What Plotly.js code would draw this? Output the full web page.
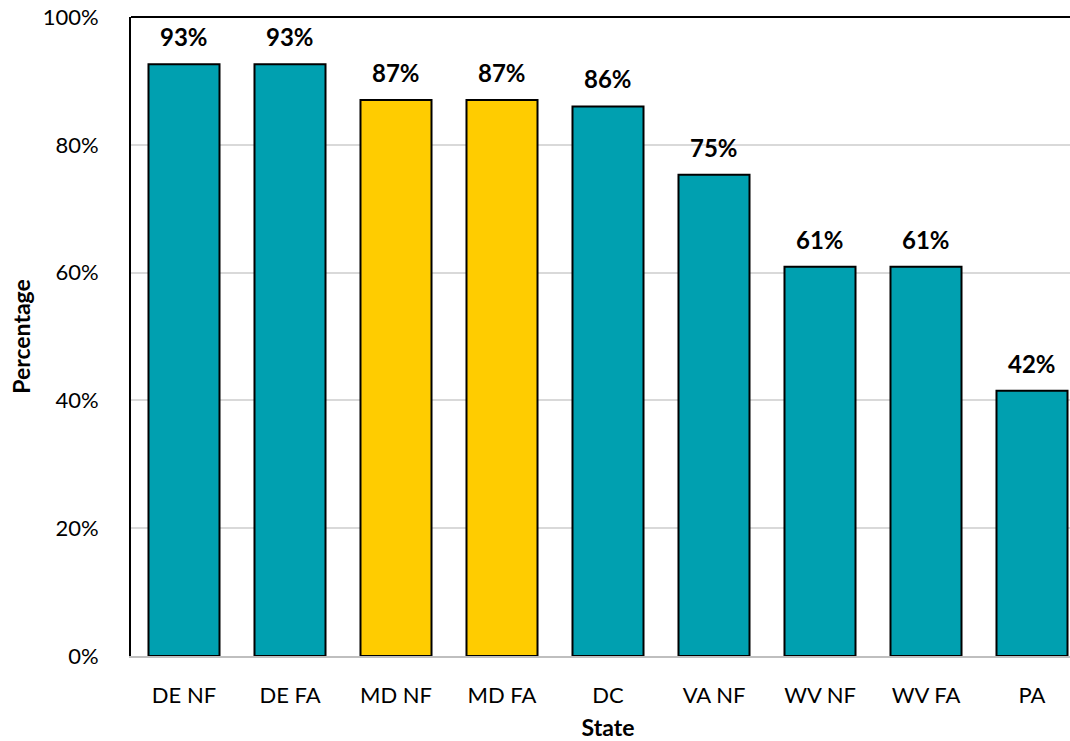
<!DOCTYPE html>
<html>
<head>
<meta charset="utf-8">
<script src="https://cdn.plot.ly/plotly-3.0.1.min.js"></script>
<style>
html, body { margin: 0; padding: 0; overflow: hidden; background: #fff; }
#chart { width: 1100px; height: 741px; }
</style>
</head>
<body>
<div id="chart"></div>
<script>
const categories = ["DE NF", "DE FA", "MD NF", "MD FA", "DC", "VA NF", "WV NF", "WV FA", "PA"];
const values = [92.6, 92.6, 87.0, 87.0, 86.0, 75.3, 60.9, 60.9, 41.5];
const labels = ["93%", "93%", "87%", "87%", "86%", "75%", "61%", "61%", "42%"];
const barColors = ["#00A0B0", "#00A0B0", "#FFCC00", "#FFCC00", "#00A0B0", "#00A0B0", "#00A0B0", "#00A0B0", "#00A0B0"];
const yTickVals = [0, 20, 40, 60, 80, 100];
const yTickText = ["0%", "20%", "40%", "60%", "80%", "100%"];

const FONT = "Lato, 'Open Sans', sans-serif";

const trace = {
  type: "bar",
  x: categories,
  y: values,
  marker: { color: barColors, line: { color: "#000000", width: 2 } },
  hoverinfo: "skip"
};

const annotations = categories.map((c, i) => ({
  x: c, y: values[i], xref: "x", yref: "y",
  text: "<b>" + labels[i] + "</b>",
  showarrow: false, yanchor: "bottom", yshift: 11,
  font: { family: FONT, size: 24, color: "#000000" }
}));

const layout = {
  width: 1100,
  height: 741,
  margin: { l: 131, r: 15, t: 17, b: 85 },
  paper_bgcolor: "#ffffff",
  plot_bgcolor: "#ffffff",
  bargap: 0.33,
  showlegend: false,
  font: { family: FONT, size: 22, color: "#000000" },
  xaxis: {
    type: "category",
    showline: true, linecolor: "#BFBFBF", linewidth: 2,
    ticks: "", ticklabelstandoff: 19,
    tickfont: { family: FONT, size: 22, color: "#000000" },
    title: { text: "<b>State</b>", font: { family: FONT, size: 23, color: "#000000" }, standoff: 12 },
    automargin: false
  },
  yaxis: {
    range: [0, 100],
    tickvals: yTickVals, ticktext: yTickText,
    showgrid: true, gridcolor: "#D9D9D9", gridwidth: 2,
    zeroline: false,
    showline: true, linecolor: "#000000", linewidth: 2, mirror: true,
    ticks: "", ticklabelstandoff: 26,
    tickfont: { family: FONT, size: 22, color: "#000000" },
    title: { text: "<b>Percentage</b>", font: { family: FONT, size: 23, color: "#000000" }, standoff: 6 },
    automargin: false
  },
  shapes: [
    { type: "line", xref: "paper", yref: "paper", x0: 0, x1: 1, y0: 1, y1: 1,
      line: { color: "#000000", width: 2 } }
  ],
  annotations: annotations
};

Plotly.newPlot("chart", [trace], layout, { displayModeBar: false, staticPlot: true });
</script>
</body>
</html>
